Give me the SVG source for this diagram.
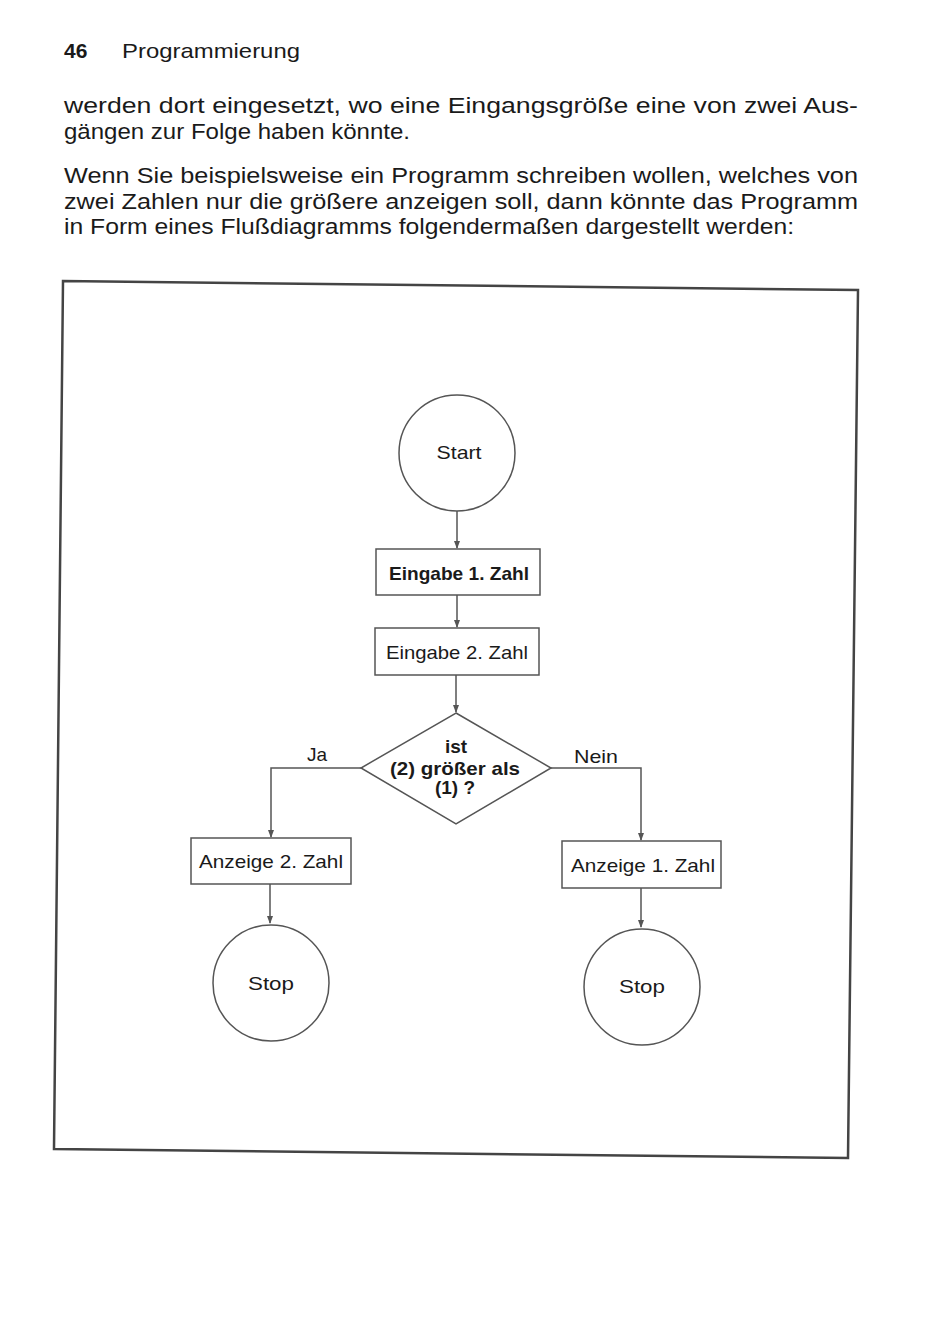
<svg xmlns="http://www.w3.org/2000/svg" width="950" height="1326" viewBox="0 0 950 1326">
<style>
.t{font-family:"Liberation Sans",Arial,sans-serif;fill:#1a1a1a}
.body{font-size:22px}
.n{font-family:"Liberation Sans",Arial,sans-serif;font-size:19px;fill:#1a1a1a;text-anchor:middle}
.shape{fill:#fff;stroke:#555;stroke-width:1.5}
.edge{fill:none;stroke:#555;stroke-width:1.5}
</style>
<defs>
<marker id="ah" markerWidth="8" markerHeight="10" refX="7" refY="4" orient="auto" markerUnits="userSpaceOnUse" viewBox="0 0 8 8">
<path d="M0,1 L8,4 L0,7 Z" fill="#555"/>
</marker>
</defs>
<rect width="950" height="1326" fill="#fff"/>
<g id="page-text">
<text class="t" x="64" y="58" font-size="21" font-weight="bold">46</text>
<text class="t" x="122" y="58" font-size="21" textLength="178" lengthAdjust="spacingAndGlyphs">Programmierung</text>
<text class="t body" x="64" y="113" textLength="794" lengthAdjust="spacingAndGlyphs">werden dort eingesetzt, wo eine Eingangsgröße eine von zwei Aus-</text>
<text class="t body" x="64" y="139" textLength="346" lengthAdjust="spacingAndGlyphs">gängen zur Folge haben könnte.</text>
<text class="t body" x="64" y="183" textLength="794" lengthAdjust="spacingAndGlyphs">Wenn Sie beispielsweise ein Programm schreiben wollen, welches von</text>
<text class="t body" x="64" y="209" textLength="794" lengthAdjust="spacingAndGlyphs">zwei Zahlen nur die größere anzeigen soll, dann könnte das Programm</text>
<text class="t body" x="64" y="234" textLength="730" lengthAdjust="spacingAndGlyphs">in Form eines Flußdiagramms folgendermaßen dargestellt werden:</text>
</g>
<polygon points="63,281 858,290 848,1158 54,1149" fill="none" stroke="#444" stroke-width="2.5"/>
<g id="connectors">
<line class="edge" x1="457" y1="511" x2="457" y2="548" marker-end="url(#ah)"/>
<line class="edge" x1="457" y1="595" x2="457" y2="627" marker-end="url(#ah)"/>
<line class="edge" x1="456" y1="675" x2="456" y2="712" marker-end="url(#ah)"/>
<polyline class="edge" points="361,768 271,768 271,837" marker-end="url(#ah)"/>
<polyline class="edge" points="551,768 641,768 641,840" marker-end="url(#ah)"/>
<line class="edge" x1="270" y1="884" x2="270" y2="923" marker-end="url(#ah)"/>
<line class="edge" x1="641" y1="888" x2="641" y2="927" marker-end="url(#ah)"/>
<text class="n" x="317" y="761" font-size="19">Ja</text>
<text class="n" x="596" y="763" font-size="19" textLength="44" lengthAdjust="spacingAndGlyphs">Nein</text>
</g>
<g id="start">
<circle class="shape" cx="457" cy="453" r="58"/>
<text class="n" x="459" y="459" textLength="45" lengthAdjust="spacingAndGlyphs">Start</text>
</g>
<g id="input1">
<rect class="shape" x="376" y="549" width="164" height="46"/>
<text class="n" x="459" y="580" font-weight="bold" textLength="140" lengthAdjust="spacingAndGlyphs">Eingabe 1. Zahl</text>
</g>
<g id="input2">
<rect class="shape" x="375" y="628" width="164" height="47"/>
<text class="n" x="457" y="659" textLength="142" lengthAdjust="spacingAndGlyphs">Eingabe 2. Zahl</text>
</g>
<g id="decision">
<polygon class="shape" points="456,713 551,768 456,824 361,768"/>
<text class="n" x="456" y="753" font-size="18" font-weight="bold">ist</text>
<text class="n" x="455" y="775" font-size="18" font-weight="bold" textLength="130" lengthAdjust="spacingAndGlyphs">(2) größer als</text>
<text class="n" x="455" y="794" font-size="18" font-weight="bold">(1) ?</text>
</g>
<g id="output2">
<rect class="shape" x="191" y="838" width="160" height="46"/>
<text class="n" x="271" y="868" textLength="144" lengthAdjust="spacingAndGlyphs">Anzeige 2. Zahl</text>
</g>
<g id="output1">
<rect class="shape" x="562" y="841" width="159" height="47"/>
<text class="n" x="643" y="872" textLength="144" lengthAdjust="spacingAndGlyphs">Anzeige 1. Zahl</text>
</g>
<g id="stop1">
<circle class="shape" cx="271" cy="983" r="58"/>
<text class="n" x="271" y="990" textLength="46" lengthAdjust="spacingAndGlyphs">Stop</text>
</g>
<g id="stop2">
<circle class="shape" cx="642" cy="987" r="58"/>
<text class="n" x="642" y="993" textLength="46" lengthAdjust="spacingAndGlyphs">Stop</text>
</g>
</svg>
